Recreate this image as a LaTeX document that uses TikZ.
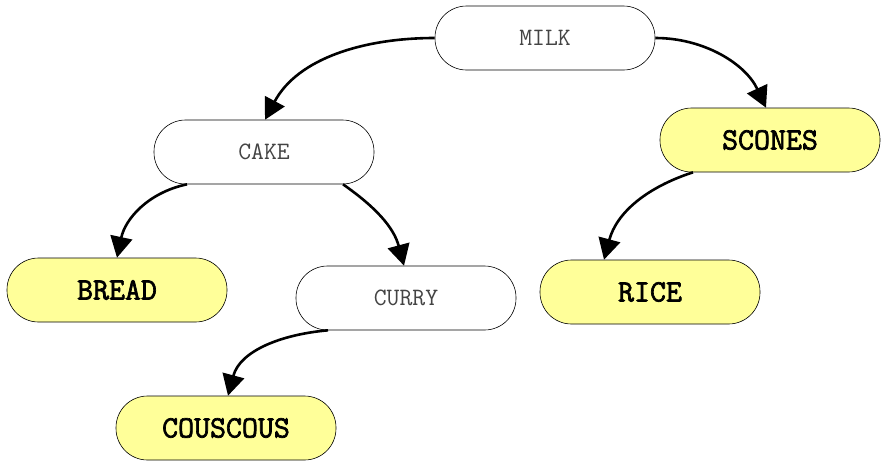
\documentclass[tikz,border=0pt]{standalone}
\usepackage{fontspec}
\newfontfamily\leaffont[FakeBold=2.2]{Latin Modern Mono}
\usetikzlibrary{arrows.meta}
\definecolor{nodeyellow}{HTML}{FFFF99}
\definecolor{labelgray}{HTML}{444444}
\tikzset{
  plainbox/.style={draw=black, line width=0.6pt, fill=white, rounded corners=31.5pt,
    minimum width=220pt, minimum height=64pt, inner sep=0pt,
    font=\ttfamily\fontsize{25}{25}\selectfont, text=labelgray},
  leafbox/.style={draw=black, line width=0.6pt, fill=nodeyellow, rounded corners=31.5pt,
    minimum width=220pt, minimum height=64pt, inner sep=0pt,
    font=\leaffont\fontsize{31}{31}\selectfont, text=black},
  edge/.style={line width=2.6pt, -{Triangle[length=21pt,width=22pt]}}
}
\begin{document}
\begin{tikzpicture}[x=1pt,y=-1pt]
\useasboundingbox (0,0) rectangle (885,461);
\node[plainbox] (milk) at (545,38) {MILK};
\node[plainbox] (cake) at (264,152) {CAKE};
\node[leafbox] (scones) at (770,140) {SCONES};
\node[leafbox] (bread) at (117,290) {BREAD};
\node[plainbox] (curry) at (406,298) {CURRY};
\node[leafbox] (rice) at (650,292) {RICE};
\node[leafbox] (couscous) at (226,428) {COUSCOUS};

\draw[edge] (milk.west) to[out=180,in=62,looseness=0.95] ([xshift=1pt]cake.north);
\draw[edge] (milk.east) to[out=0,in=115,looseness=0.95] ([xshift=-4pt]scones.north);
\draw[edge] ([xshift=-77pt]cake.south) to[out=192,in=78] (bread.north);
\draw[edge] ([xshift=79pt]cake.south) to[out=-35,in=105] ([xshift=-2pt]curry.north);
\draw[edge] ([xshift=-77pt]scones.south) to[out=198,in=75] ([xshift=-46pt]rice.north);
\draw[edge] ([xshift=-78pt]curry.south) to[out=185,in=75] ([xshift=2pt]couscous.north);
\end{tikzpicture}
\end{document}
